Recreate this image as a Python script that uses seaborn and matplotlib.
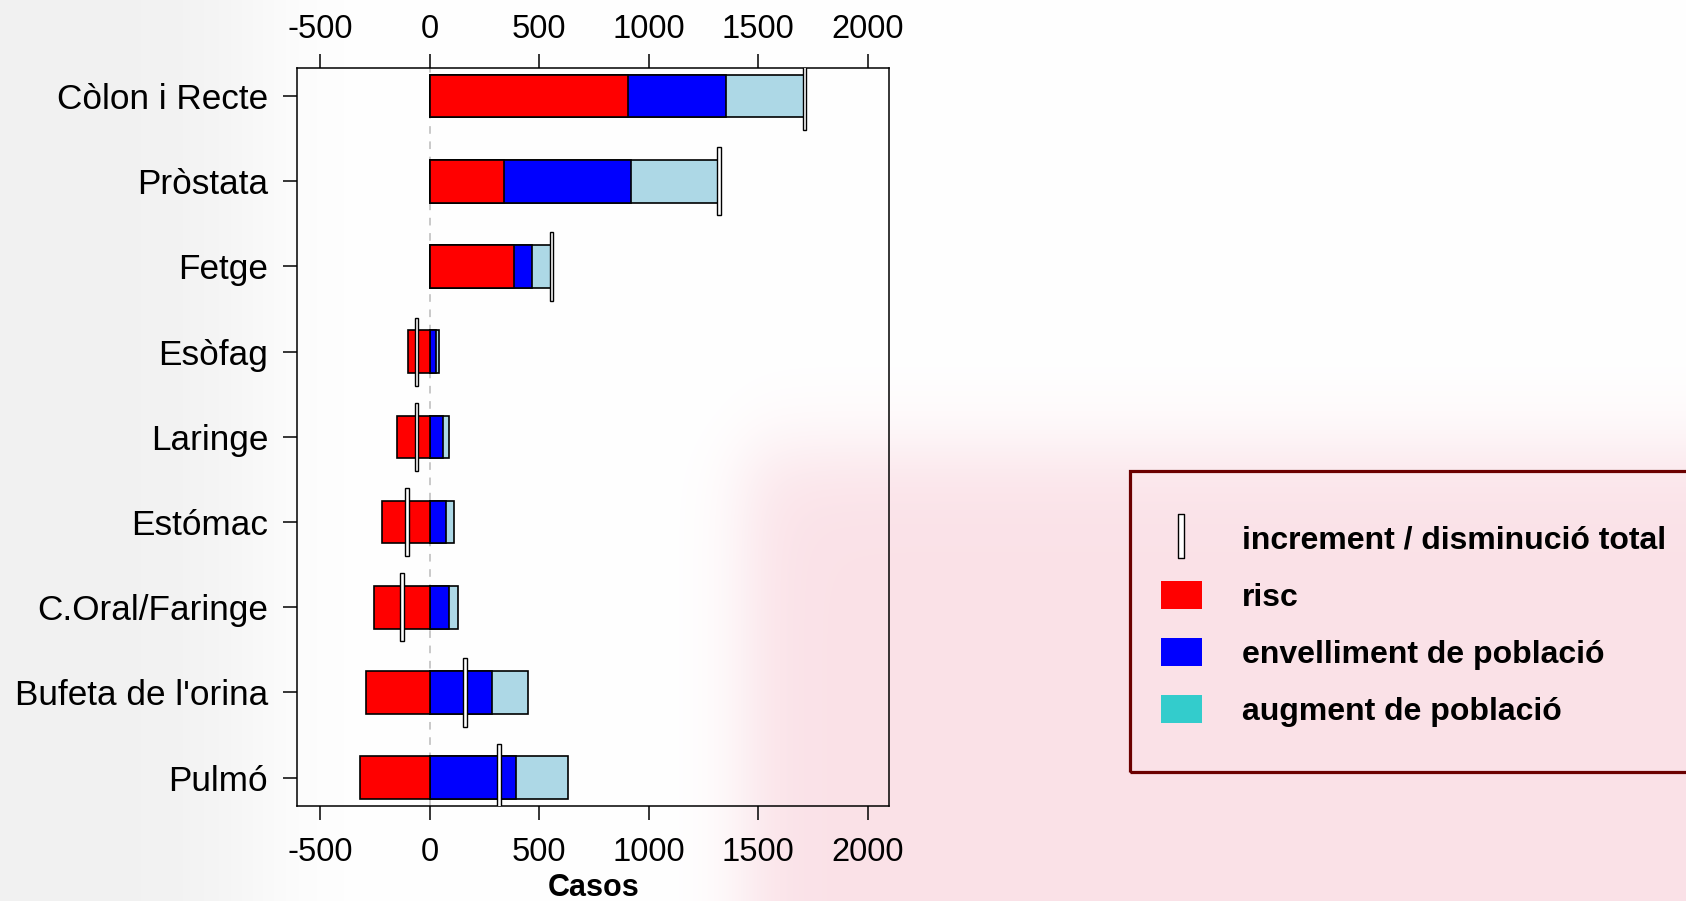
import numpy as np
import pandas as pd
import matplotlib
matplotlib.use("Agg")
import matplotlib.pyplot as plt
import seaborn as sns
from matplotlib.patches import Patch, Rectangle
from matplotlib.lines import Line2D
from matplotlib.path import Path
from matplotlib.transforms import ScaledTranslation

# ---------------- data ----------------
categories = ["Còlon i Recte", "Pròstata", "Fetge", "Esòfag", "Laringe",
              "Estómac", "C.Oral/Faringe", "Bufeta de l'orina", "Pulmó"]
risc = [904, 340, 386, -101, -149, -218, -257, -292, -320]
envelliment = [447, 577, 82, 28, 62, 75, 89, 285, 395]
augment = [358, 401, 84, 13, 26, 33, 40, 162, 237]
total = [1712, 1321, 555, -62, -62, -105, -127, 161, 316]
xticks = [-500, 0, 500, 1000, 1500, 2000]
legend_labels = ["increment / disminució total", "risc",
                 "envelliment de població", "augment de població"]
xlabel = "Casos"

# ---------------- styling ----------------
sns.set_style("white")
plt.rcParams["font.family"] = ["Liberation Sans", "DejaVu Sans"]
plt.rcParams.update({"text.color": "black", "axes.labelcolor": "black",
                     "xtick.color": "black", "ytick.color": "black"})

RED, BLUE, LBLUE, TURQ = "#FF0000", "#0000FF", "#ADD8E6", "#33CCCC"

df = pd.DataFrame({"cat": categories, "risc": risc, "env": envelliment,
                   "aug": augment, "total": total})
pos = df["risc"].clip(lower=0)
df["end_env"] = pos + df["env"]
df["end_aug"] = df["end_env"] + df["aug"]

W, H = 1686, 901
fig = plt.figure(figsize=(W / 100, H / 100), dpi=100)
fig.patch.set_facecolor("white")

# faded background (soft pink area lower right, light grey at the left)
bg = fig.add_axes([0, 0, 1, 1])
bg.set_zorder(-1)
bg.axis("off")
xx, yy = np.meshgrid(np.arange(W), np.arange(H))
sig = lambda t: 1 / (1 + np.exp(-t))
pink = sig((xx - 745) / 20) * sig((yy - 450) / 25) * 0.5
grey = sig((255 - xx) / 35) * 0.5
img = np.ones((H, W, 3))
pink_col = np.array([246, 196, 208]) / 255
grey_col = np.array([228, 228, 228]) / 255
img = img * (1 - pink[..., None]) + pink_col * pink[..., None]
img = img * (1 - grey[..., None]) + grey_col * grey[..., None]
bg.imshow(img, extent=(0, 1, 0, 1), aspect="auto", interpolation="bilinear")
bg.set_xlim(0, 1)
bg.set_ylim(0, 1)

ax = fig.add_axes([297.3 / W, 1 - 806 / H, (889 - 297.3) / W, (806 - 67.7) / H])
ax.set_zorder(1)
ax.set_facecolor("none")

ax.axvline(0, color="#BBBBBB", lw=1.1, ls=(0, (5, 5)), zorder=0.5)

common = dict(data=df, y="cat", order=categories, orient="h", saturation=1,
              width=0.5, edgecolor="black", linewidth=1.2, errorbar=None, ax=ax)
sns.barplot(x="end_aug", color=LBLUE, **common)
sns.barplot(x="end_env", color=BLUE, **common)
sns.barplot(x="risc", color=RED, **common)

# total increase / decrease markers (thin hollow rectangles)
mw = 15
ax.barh(np.arange(len(categories)), [mw] * len(categories),
        left=df["total"] - mw / 2, height=0.8, facecolor="white",
        edgecolor="black", linewidth=1.0, zorder=5)

ax.set_xlim(-606, 2098)
ax.set_ylim(len(categories) - 1 + 0.332, -0.332)
ax.set_xticks(xticks)
ax.set_xticklabels([str(v) for v in xticks])
ax.set_ylabel("")
ax.set_xlabel(xlabel, fontsize=22, fontweight="bold")
ax.xaxis.set_label_coords(0.5, -0.1225)
ax.xaxis.label.set_verticalalignment("baseline")

for s in ax.spines.values():
    s.set_visible(True)
    s.set_color("black")
    s.set_linewidth(1.1)
ax.tick_params(axis="x", top=True, labeltop=True, bottom=True, labelbottom=True,
               length=10, width=1.1, direction="out", labelsize=23.5, pad=12.3)
ax.tick_params(axis="y", left=True, right=False, length=10, width=1.1,
               direction="out", labelsize=25.3, pad=11)
shift = ScaledTranslation(0, -5.8 / 72, fig.dpi_scale_trans)
for t in ax.xaxis.get_major_ticks():
    t.label2.set_transform(t.label2.get_transform() + shift)

# ---------------- legend ----------------
frame = Rectangle((1130 / W, 1 - 772 / H), (1710 - 1130) / W, (772 - 471) / H,
                  transform=fig.transFigure, facecolor="none",
                  edgecolor="#6B0000", linewidth=2.3, clip_on=False, zorder=2)
fig.patches.append(frame)

bar_marker = Path([(-0.06, -0.5), (0.06, -0.5), (0.06, 0.5), (-0.06, 0.5),
                   (-0.06, -0.5)], closed=True)
handles = [
    Line2D([], [], linestyle="none", marker=bar_marker, markersize=31.5,
           markerfacecolor="white", markeredgecolor="black", markeredgewidth=1.0),
    Patch(facecolor=RED, edgecolor="none"),
    Patch(facecolor=BLUE, edgecolor="none"),
    Patch(facecolor=TURQ, edgecolor="none"),
]
fig.legend(handles, legend_labels, loc="upper left",
           bbox_to_anchor=(1161 / W, 1 - 524 / H), frameon=False,
           prop=dict(weight="bold", size=23), handlelength=1.28,
           handleheight=0.97, handletextpad=1.25, labelspacing=0.78,
           borderpad=0, borderaxespad=0)

fig.savefig("out.png", dpi=100)
